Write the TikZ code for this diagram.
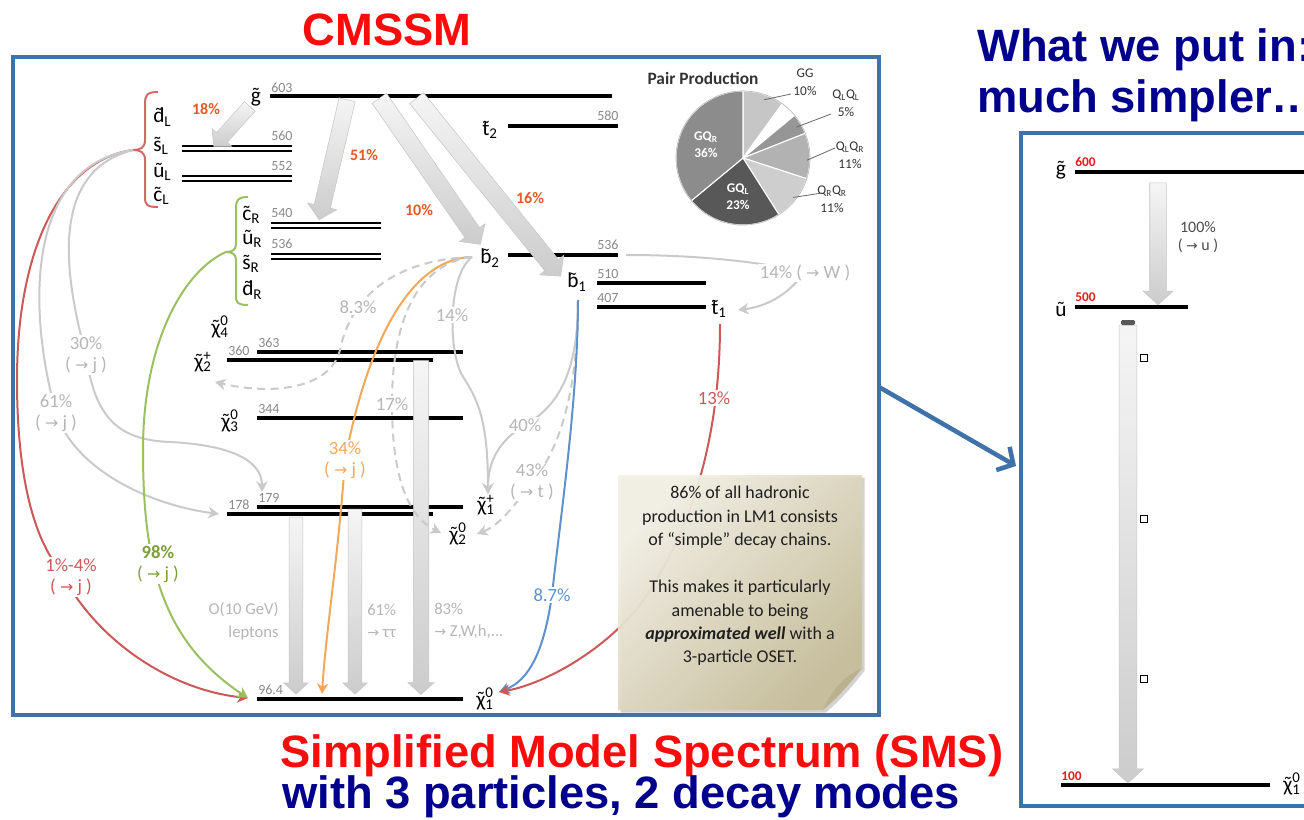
\documentclass[tikz,border=0pt]{standalone}
\usepackage{fontspec}
\setmainfont{Carlito}
\newfontfamily\headfont{Liberation Sans}
\newfontfamily\symb{DejaVu Sans}[Scale=0.85]
\usetikzlibrary{calc,arrows.meta,shapes.arrows,shadows}

\definecolor{frameblue}{RGB}{62,114,168}
\definecolor{titlered}{RGB}{250,12,12}
\definecolor{navy}{RGB}{0,0,140}
\definecolor{pctred}{RGB}{232,88,40}
\definecolor{sqred}{RGB}{205,88,88}
\definecolor{sqgreen}{RGB}{155,192,95}
\definecolor{lblgreen}{RGB}{125,160,60}
\definecolor{sborange}{RGB}{242,168,90}
\definecolor{sbblue}{RGB}{95,145,205}
\definecolor{lgray}{RGB}{202,202,202}
\definecolor{lblgray}{RGB}{182,182,182}
\definecolor{massgray}{RGB}{138,138,138}
\definecolor{mred}{RGB}{228,30,30}
\definecolor{noteL}{RGB}{244,241,230}
\definecolor{noteD}{RGB}{198,189,152}
\definecolor{noteF}{RGB}{186,178,140}
\definecolor{pieGG}{RGB}{198,198,198}
\definecolor{pieLL}{RGB}{150,150,150}
\definecolor{pieLR}{RGB}{178,178,178}
\definecolor{pieRR}{RGB}{206,206,206}
\definecolor{pieGL}{RGB}{88,88,88}
\definecolor{pieGR}{RGB}{140,140,140}

% tilde over a letter
\newcommand\tl[1]{\leavevmode\setbox0\hbox{#1}\rlap{\makebox[\wd0]{˜}}\box0}
% stacked subscript and superscript
\newcommand\ssp[2]{\rlap{\textsubscript{#1}}\textsuperscript{#2}}
% broad shaded arrow between two named points
\newcommand\blockarr[5]{%
  \path let \p1=($(#3)-(#2)$), \n1={atan2(\y1,\x1)}, \n2={veclen(\x1,\y1)} in
    node[barrow, inner ysep=#4, single arrow head extend=#5, rotate=\n1,
         minimum height=\n2] (#1) at ($(#2)!0.5!(#3)$) {};}

\begin{document}
\begin{tikzpicture}[x=0.75pt,y=-0.75pt,
  lvl/.style={line width=2.3pt},
  dlvl/.style={line width=1.9pt},
  massno/.style={font=\fontsize{10.5}{11}\selectfont, text=massgray, inner sep=0pt, anchor=base west},
  ptcl/.style={font=\fontsize{16}{18}\selectfont, inner sep=0pt},
  pctg/.style={font=\fontsize{14}{15.5}\selectfont, text=lblgray, align=center, fill=white, inner sep=1pt},
  pctbig/.style={font=\bfseries\fontsize{12}{13}\selectfont, text=pctred, inner sep=0pt},
  crv/.style={line width=1.5pt},
  arrtip/.style={-{Stealth[length=8pt,width=8.5pt,inset=2.5pt]}},
  barrow/.style={single arrow, draw=gray!45, line width=0.4pt, top color=gray!8,
     bottom color=gray!40, inner xsep=0pt, single arrow tip angle=95},
  frm/.style={draw=frameblue, line width=2.3pt},
  leader/.style={draw=black!60, line width=0.6pt},
  sqbox/.style={draw=black, line width=0.8pt, fill=white, minimum size=5.5pt, inner sep=0pt},
  headtxt/.style={font=\headfont\bfseries\fontsize{34}{36}\selectfont, inner sep=0pt},
]
\useasboundingbox (0,0) rectangle (1304,820);
\clip (0,0) rectangle (1304,820);
\fill[white] (0,0) rectangle (1304,820);

% ---------- frames ----------
\draw[frm] (13,57) rectangle (879,715);
\draw[frm] (1021,133) rectangle (1330,806);
\coordinate (bxo) at (879,387);
\coordinate (bxi) at (1016,466);
\draw[frameblue, line width=3.4pt, -{Straight Barb[length=9pt,width=20pt]}] (bxo) -- (bxi);

% ---------- titles ----------
\node[headtxt, anchor=base, text=titlered] (ttl) at (387,46) {CMSSM};
\node[headtxt, anchor=base west, text=navy] (put1) at (977,62) {What we put in:};
\node[headtxt, anchor=base west, text=navy] (put2) at (977,113) {much simpler…};
\node[headtxt, anchor=base west, text=titlered] (sms1) at (280,767) {Simplified Model Spectrum (SMS)};
\node[headtxt, anchor=base west, text=navy] (sms2) at (282,808) {with 3 particles, 2 decay modes};

% ---------- squark levels ----------
\coordinate (gl) at (270,96); \coordinate (gr) at (612,96);
\draw[lvl] (gl) -- (gr);
\node[massno] (m603) at (271,93) {603};
\node[ptcl] (lg) at (256,97) {\tl{g}};

\foreach \y in {146,151,176,181} \draw[dlvl] (182,\y) -- (292,\y);
\node[massno] (m560) at (271,141) {560};
\node[massno] (m552) at (271,171) {552};
\node[ptcl, anchor=west] (ldL) at (153,117) {\tl{d}\textsubscript{L}};
\node[ptcl, anchor=west] (lsL) at (153,146) {\tl{s}\textsubscript{L}};
\node[ptcl, anchor=west] (luL) at (153,172) {\tl{u}\textsubscript{L}};
\node[ptcl, anchor=west] (lcL) at (153,196) {\tl{c}\textsubscript{L}};

\foreach \y in {223,228,254,259} \draw[dlvl] (271,\y) -- (381,\y);
\node[massno] (m540) at (271,218) {540};
\node[massno] (m536a) at (271,249) {536};
\node[ptcl, anchor=west] (lcR) at (242,215) {\tl{c}\textsubscript{R}};
\node[ptcl, anchor=west] (luR) at (242,239) {\tl{u}\textsubscript{R}};
\node[ptcl, anchor=west] (lsR) at (242,264) {\tl{s}\textsubscript{R}};
\node[ptcl, anchor=west] (ldR) at (242,290) {\tl{d}\textsubscript{R}};

% braces
\coordinate (qLtip) at (133,150);
\coordinate (qRtip) at (226,252);
\draw[sqred!90, line width=1.5pt] (158,92) .. controls (147,92) and (145,95) .. (145,104)
  -- (145,140) .. controls (145,148) and (140,150) .. (qLtip)
  .. controls (140,150) and (145,152) .. (145,160) -- (145,197)
  .. controls (145,205) and (147,207) .. (158,207);
\draw[sqgreen, line width=1.5pt] (248,197) .. controls (238,197) and (236,200) .. (236,208)
  -- (236,244) .. controls (236,250) and (232,252) .. (qRtip)
  .. controls (232,252) and (236,254) .. (236,260) -- (236,296)
  .. controls (236,303) and (238,305) .. (248,305);

% ---------- gaugino levels ----------
\draw[lvl] (257,352) -- (463,352);
\node[massno] (m363) at (258,347) {363};
\draw[lvl] (227,360) -- (433,360);
\node[massno] (m360) at (228,355) {360};
\node[ptcl] (lN4) at (220,327) {\tl{χ}\ssp{4}{0}};
\node[ptcl] (lC2) at (203,362) {\tl{χ}\ssp{2}{+}};
\draw[lvl] (257,418) -- (463,418);
\node[massno] (m344) at (258,413) {344};
\node[ptcl] (lN3) at (230,421) {\tl{χ}\ssp{3}{0}};
\draw[lvl] (257,507) -- (463,507);
\node[massno] (m179) at (258,502) {179};
\draw[lvl] (227,514) -- (433,514);
\node[massno] (m178) at (228,509) {178};
\node[ptcl] (lC1) at (486,505) {\tl{χ}\ssp{1}{+}};
\node[ptcl] (lN2) at (458,534) {\tl{χ}\ssp{2}{0}};
\draw[lvl] (257,699) -- (463,699);
\node[massno] (m964) at (258,694) {96.4};
\node[ptcl] (lN1) at (485,699) {\tl{χ}\ssp{1}{0}};

% ---------- third generation levels ----------
\draw[lvl] (508,126) -- (618,126);
\node[massno] (m580) at (597,121) {580};
\node[ptcl] (lt2) at (490,130) {\tl{t}\textsubscript{2}};
\draw[lvl] (508,255) -- (618,255);
\node[massno] (m536b) at (597,250) {536};
\node[ptcl] (lb2) at (490,258) {\tl{b}\textsubscript{2}};
\draw[lvl] (597,283) -- (706,283);
\node[massno] (m510) at (597,278) {510};
\node[ptcl] (lb1) at (577,282) {\tl{b}\textsubscript{1}};
\draw[lvl] (597,307) -- (706,307);
\node[massno] (m407) at (597,302) {407};
\node[ptcl] (lt1) at (719,309) {\tl{t}\textsubscript{1}};

% ---------- broad decay arrows ----------
\coordinate (g18s) at (252,104); \coordinate (g18e) at (216,144);
\coordinate (g51s) at (348,96);  \coordinate (g51e) at (320,216);
\coordinate (g10s) at (377,95);  \coordinate (g10e) at (478,241);
\coordinate (g16s) at (414,95);  \coordinate (g16e) at (558,273);
\coordinate (v1s) at (296,514);  \coordinate (v1e) at (296,691);
\coordinate (v2s) at (355,506);  \coordinate (v2e) at (355,691);
\coordinate (v3s) at (421,357);  \coordinate (v3e) at (421,691);
\blockarr{a18}{g18s}{g18e}{5.2pt}{4.5pt}
\blockarr{a51}{g51s}{g51e}{6pt}{5pt}
\blockarr{a10}{g10s}{g10e}{6.4pt}{5pt}
\blockarr{a16}{g16s}{g16e}{6.4pt}{5pt}
\blockarr{av1}{v1s}{v1e}{4.9pt}{4pt}
\blockarr{av2}{v2s}{v2e}{4.9pt}{4pt}
\blockarr{av3}{v3s}{v3e}{5.6pt}{4pt}
\node[pctbig] (p18) at (206,109) {18\%};
\node[pctbig] (p51) at (364,155) {51\%};
\node[pctbig] (p10) at (419,210) {10\%};
\node[pctbig] (p16) at (530,198) {16\%};

% ---------- thin decay curves ----------
\coordinate (b2o) at (472,257);
\coordinate (b2r) at (626,255);
\coordinate (b1o) at (578,300);
\coordinate (t1o) at (720,324);
\coordinate (t1a) at (738,310);
\coordinate (n1l) at (248,698);
\coordinate (n1r) at (499,692);
\coordinate (oj) at (322,694);
\coordinate (c1p) at (488,494);
\coordinate (c2nl) at (441,533);
\coordinate (c2nr) at (477,534);
\coordinate (c179) at (262,492);
\coordinate (c178) at (219,514);
\coordinate (c2p) at (215,382);

\draw[crv, sqred, arrtip] (qLtip) .. controls (60,160) and (17,250) .. (17,380)
  .. controls (17,480) and (35,540) .. (60,570) .. controls (95,640) and (170,690) .. (n1l);
\draw[crv, lgray, arrtip] (qLtip) .. controls (55,170) and (60,260) .. (86,355)
  .. controls (95,420) and (120,440) .. (170,442) .. controls (230,445) and (262,460) .. (c179);
\draw[crv, lgray, arrtip] (qLtip) .. controls (30,165) and (25,300) .. (56,413)
  .. controls (75,470) and (150,505) .. (c178);
\draw[crv, sqgreen, arrtip] (qRtip) .. controls (185,270) and (143,340) .. (143,450)
  .. controls (143,560) and (160,640) .. (n1l);
\draw[crv, sborange, arrtip] (b2o) .. controls (420,258) and (372,320) .. (345,460)
  .. controls (338,560) and (326,630) .. (oj);
\draw[crv, lgray, arrtip] (b2o) .. controls (448,275) and (448,350) .. (462,375)
  .. controls (478,400) and (488,420) .. (c1p);
\draw[crv, lgray, dash pattern=on 6pt off 4pt, arrtip] (b2o) .. controls (390,260) and (350,300) .. (340,350)
  .. controls (330,390) and (270,395) .. (c2p);
\draw[crv, lgray, dash pattern=on 6pt off 4pt, arrtip] (b2o) .. controls (430,262) and (392,300) .. (392,404)
  .. controls (392,470) and (405,515) .. (c2nl);
\draw[crv, lgray, arrtip] (b1o) .. controls (578,370) and (560,405) .. (525,425)
  .. controls (500,440) and (488,460) .. (c1p);
\draw[crv, lgray, dash pattern=on 6pt off 4pt, arrtip] (b1o) .. controls (578,390) and (560,450) .. (532,482)
  .. controls (515,505) and (500,525) .. (c2nr);
\draw[crv, sbblue, arrtip] (b1o) .. controls (578,400) and (560,520) .. (552,595)
  .. controls (544,650) and (530,680) .. (n1r);
\draw[crv, sqred, arrtip] (t1o) .. controls (720,420) and (700,520) .. (640,605)
  .. controls (600,655) and (540,685) .. (n1r);
\draw[crv, lgray, arrtip] (b2r) .. controls (700,255) and (760,262) .. (805,272)
  .. controls (790,292) and (770,306) .. (t1a);

% curve labels
\node[pctg] (l30) at (86,355) {30\%\\( {\symb →} j )};
\node[pctg] (l61) at (56,413) {61\%\\( {\symb →} j )};
\node[pctg, text=sqred] (l14) at (71,577) {1\%-4\%\\( {\symb →} j )};
\node[pctg, text=lblgreen] (l98) at (158,564) {\textbf{98\%}\\( {\symb →} j )};
\node[pctg, text=sborange] (l34) at (345,460) {34\%\\( {\symb →} j )};
\node[pctg] (l83) at (358,307) {8.3\%};
\node[pctg] (l14b) at (452,315) {14\%};
\node[pctg] (l17) at (392,404) {17\%};
\node[pctg] (l40) at (525,425) {40\%};
\node[pctg] (l43) at (532,482) {43\%\\( {\symb →} t )};
\node[pctg, text=sbblue] (l87) at (552,595) {8.7\%};
\node[pctg, text=sqred] (l13) at (714,398) {13\%};
\node[pctg] (lW) at (805,273) {14\% ( {\symb →} W )};
\node[font=\fontsize{12.5}{17}\selectfont, text=lblgray, align=right, anchor=east, inner sep=0pt] (llep) at (279,621) {O(10 GeV)\\leptons};
\node[font=\fontsize{12.5}{17}\selectfont, text=lblgray, align=left, anchor=west, inner sep=0pt] (ltau) at (367,621) {61\%\\{\symb →} ττ};
\node[font=\fontsize{12.5}{17}\selectfont, text=lblgray, align=left, anchor=west, inner sep=0pt] (lzwh) at (434,621) {83\%\\{\symb →} Z,W,h,...};

% ---------- note ----------
\path[drop shadow={opacity=0.35,shadow xshift=2pt,shadow yshift=-2pt}, fill opacity=0.92,
      top color=noteL, bottom color=noteD, shading angle=45]
  (618,475) -- (862,475) -- (862,668) .. controls (848,686) and (836,699) .. (823,710) -- (618,710) -- cycle;
\fill[noteF] (862,668) .. controls (848,686) and (836,699) .. (823,710)
  .. controls (830,694) and (842,677) .. (862,668) -- cycle;
\node[align=center, font=\fontsize{13.5}{17.6}\selectfont, text=black!88, inner sep=0pt] (notetxt) at (740,576)
  {86\% of all hadronic\\production in LM1 consists\\of “simple” decay chains.\\[17.6pt]
   This makes it particularly\\amenable to being\\\textbf{\textit{approximated well}} with a\\3-particle OSET.};

% ---------- pair production pie ----------
\begin{scope}[shift={(743,158)}, yscale=-1]
  \foreach \a/\b/\c in {90/54/pieGG, 54/39.6/white, 39.6/21.6/pieLL, 21.6/-18/pieLR,
                        -18/-57.6/pieRR, -57.6/-140.4/pieGL, -140.4/-270/pieGR}
    \filldraw[fill=\c, draw=white, line width=0.8pt] (0,0) -- (\a:67) arc[start angle=\a, end angle=\b, radius=67] -- cycle;
  \draw[gray!55, line width=0.5pt] (0,0) circle[radius=67];
  \coordinate (sGG) at (70:62);
  \coordinate (sLL) at (30:62);
  \coordinate (sLR) at (-2:64);
  \coordinate (sRR) at (-38:64);
\end{scope}
\node[font=\bfseries\fontsize{13}{14}\selectfont, text=black!80, inner sep=0pt] (pairt) at (703,78) {Pair Production};
\node[font=\bfseries\fontsize{10}{13}\selectfont, text=white, align=center, inner sep=0pt] (pGR) at (706,145) {GQ\textsubscript{R}\\36\%};
\node[font=\bfseries\fontsize{10}{13}\selectfont, text=white, align=center, inner sep=0pt] (pGL) at (738,197) {GQ\textsubscript{L}\\23\%};
\node[font=\fontsize{10}{13.5}\selectfont, text=black!80, align=center, inner sep=0pt] (pGG) at (805,82) {GG\\10\%};
\node[font=\fontsize{10}{13.5}\selectfont, text=black!80, align=center, inner sep=0pt] (pLL) at (846,103) {Q\textsubscript{L}Q\textsubscript{L}\\5\%};
\node[font=\fontsize{10}{13.5}\selectfont, text=black!80, align=center, inner sep=0pt] (pLR) at (850,155) {Q\textsubscript{L}Q\textsubscript{R}\\11\%};
\node[font=\fontsize{10}{13.5}\selectfont, text=black!80, align=center, inner sep=0pt] (pRR) at (832,199) {Q\textsubscript{R}Q\textsubscript{R}\\11\%};
\coordinate (eGG) at (791,94);
\coordinate (eLL) at (831,114);
\coordinate (eLR) at (835,148);
\coordinate (eRR) at (822,193);
\draw[leader] (sGG) -- (eGG);
\draw[leader] (sLL) -- (eLL);
\draw[leader] (sLR) -- (eLR);
\draw[leader] (sRR) -- (eRR);

% ---------- simplified spectrum ----------
\draw[lvl] (1075,172) -- (1304,172);
\node[font=\bfseries\fontsize{10}{11}\selectfont, text=mred, anchor=base west, inner sep=0pt] (s600) at (1075,167) {600};
\node[ptcl] (sg) at (1061,170) {\tl{g}};
\draw[lvl] (1075,307) -- (1188,307);
\node[font=\bfseries\fontsize{10}{11}\selectfont, text=mred, anchor=base west, inner sep=0pt] (s500) at (1075,301) {500};
\node[ptcl] (su) at (1061,309) {\tl{u}};
\draw[lvl] (1061,785) -- (1270,785);
\node[font=\bfseries\fontsize{10}{11}\selectfont, text=mred, anchor=base west, inner sep=0pt] (s100) at (1061,780) {100};
\node[ptcl] (sn1) at (1292,784) {\tl{χ}\ssp{1}{0}};
\coordinate (r1s) at (1158,179); \coordinate (r1e) at (1158,301);
\coordinate (r2s) at (1128,321); \coordinate (r2e) at (1128,779);
\blockarr{ar1}{r1s}{r1e}{6pt}{5pt}
\blockarr{ar2}{r2s}{r2e}{6.4pt}{5pt}
\fill[black!65, rounded corners=1pt] (1121,320) rectangle (1135,325);
\node[font=\fontsize{12}{13}\selectfont, text=black!70, align=center, inner sep=0pt] (s100p) at (1198,237) {100\%\\( {\symb →} u )};
\node[sqbox] (q1) at (1144,358) {};
\node[sqbox] (q2) at (1144,519) {};
\node[sqbox] (q3) at (1144,679) {};
\end{tikzpicture}
\end{document}
